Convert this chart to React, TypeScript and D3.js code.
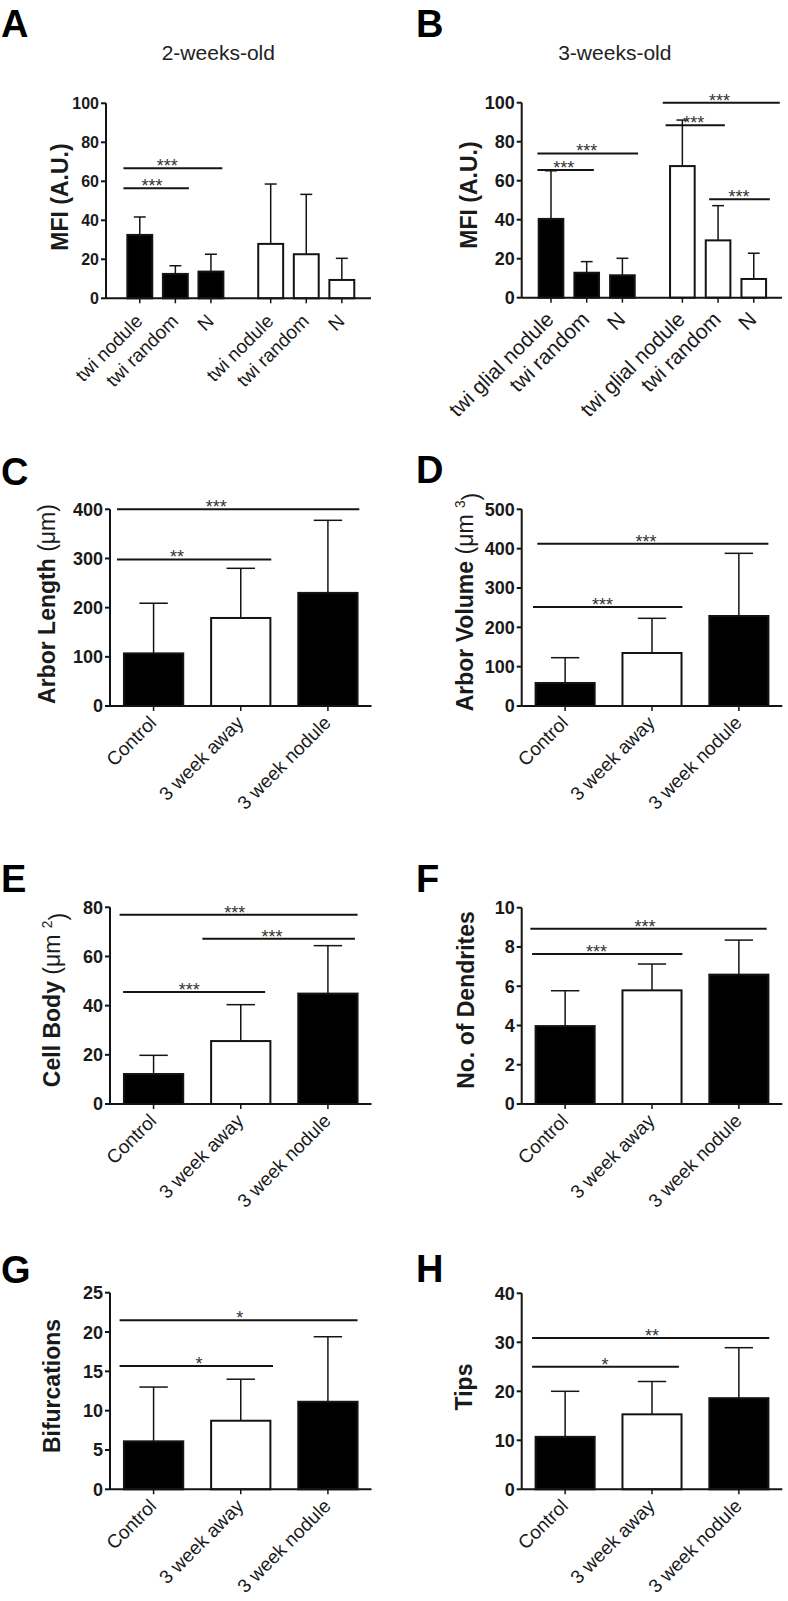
import React from "react";
import * as d3 from "d3";

const FONT = "'Liberation Sans', Arial, Helvetica, sans-serif";
const INK = "#141414";

// ---------- Panel A : 2-weeks-old MFI ----------
const aCategories = ["twi nodule", "twi random", "N", "twi nodule", "twi random", "N"];
const aGroups = [0, 0, 0, 1, 1, 1];
const aMeans = [32.5, 12.5, 13.7, 27.9, 22.6, 9.4];
const aErrors = [9.2, 4.2, 8.9, 30.7, 30.7, 11.1];
const aTicks = [0, 20, 40, 60, 80, 100];
const aSig = [
  { from: -0.46, to: 2.32, y: 66.7, label: "***", at: 0.77 },
  { from: -0.46, to: 1.38, y: 56.4, label: "***", at: 0.34 },
];

// ---------- Panel B : 3-weeks-old MFI ----------
const bCategories = ["twi glial nodule", "twi random", "N", "twi glial nodule", "twi random", "N"];
const bGroups = [0, 0, 0, 1, 1, 1];
const bMeans = [40.4, 12.8, 11.5, 67.5, 29.4, 9.6];
const bErrors = [24.7, 5.7, 8.7, 23.6, 17.8, 13.2];
const bTicks = [0, 20, 40, 60, 80, 100];
const bSig = [
  { from: -0.38, to: 1.2, y: 65.5, label: "***", at: 0.36 },
  { from: -0.38, to: 2.44, y: 74.0, label: "***", at: 1.0 },
  { from: 3.13, to: 6.41, y: 100, label: "***", at: 4.72 },
  { from: 3.21, to: 4.87, y: 88.4, label: "***", at: 4.0 },
  { from: 4.43, to: 6.13, y: 50.5, label: "***", at: 5.27 },
];

// ---------- Shared categories for C-H ----------
const morphCategories = ["Control", "3 week away", "3 week nodule"];
const morphFilled = [true, false, true];

// C : Arbor length
const cMeans = [107, 179, 230];
const cErrors = [102, 101, 147.6];
const cTicks = [0, 100, 200, 300, 400];
const cSig = [
  { from: -0.42, to: 2.36, y: 400, label: "***", at: 0.72 },
  { from: -0.42, to: 1.35, y: 298, label: "**", at: 0.27 },
];

// D : Arbor volume
const dMeans = [58.5, 134.7, 228.8];
const dErrors = [64.3, 88.2, 159.3];
const dTicks = [0, 100, 200, 300, 400, 500];
const dSig = [
  { from: -0.32, to: 2.34, y: 412.6, label: "***", at: 0.93 },
  { from: -0.37, to: 1.35, y: 251.7, label: "***", at: 0.43 },
];

// E : Cell body
const eMeans = [12.2, 25.6, 44.9];
const eErrors = [7.6, 14.8, 19.5];
const eTicks = [0, 20, 40, 60, 80];
const eSig = [
  { from: -0.39, to: 2.34, y: 77.0, label: "***", at: 0.93 },
  { from: 0.56, to: 2.31, y: 67.2, label: "***", at: 1.36 },
  { from: -0.35, to: 1.28, y: 45.6, label: "***", at: 0.41 },
];

// F : Number of dendrites
const fMeans = [3.97, 5.79, 6.59];
const fErrors = [1.8, 1.34, 1.76];
const fTicks = [0, 2, 4, 6, 8, 10];
const fSig = [
  { from: -0.4, to: 2.32, y: 8.93, label: "***", at: 0.92 },
  { from: -0.38, to: 1.35, y: 7.64, label: "***", at: 0.36 },
];

// G : Bifurcations
const gMeans = [6.1, 8.72, 11.13];
const gErrors = [6.9, 5.28, 8.27];
const gTicks = [0, 5, 10, 15, 20, 25];
const gSig = [
  { from: -0.39, to: 2.34, y: 21.5, label: "*", at: 0.99 },
  { from: -0.39, to: 1.37, y: 15.67, label: "*", at: 0.52 },
];

// H : Tips
const hMeans = [10.7, 15.3, 18.6];
const hErrors = [9.3, 6.7, 10.3];
const hTicks = [0, 10, 20, 30, 40];
const hSig = [
  { from: -0.38, to: 2.35, y: 30.9, label: "**", at: 1.0 },
  { from: -0.38, to: 1.31, y: 25.0, label: "*", at: 0.46 },
];

type Sig = { from: number; to: number; y: number; label: string; at: number };

type PanelCfg = {
  letter: string;
  letterX: number;
  letterY: number;
  title?: string;
  titleX?: number;
  titleY?: number;
  xLeft: number;
  xRight: number;
  yTop: number;
  y0: number;
  ticks: number[];
  tickFont: number;
  slots: number[];
  slotDomain: [number, number];
  barW: number;
  categories: string[];
  means: number[];
  errors: number[];
  filled: boolean[];
  sig: Sig[];
  yLabel: React.ReactNode;
  yLabelX: number;
  yLabelY: number;
  xLabelDx: number;
  xLabelDy: number;
  xLabelFont: number;
};

function Panel({ p }: { p: PanelCfg }) {
  const y = d3
    .scaleLinear()
    .domain([0, p.ticks[p.ticks.length - 1]])
    .range([p.y0, p.yTop]);
  const x = d3.scaleLinear().domain(p.slotDomain).range([p.xLeft, p.xRight]);
  const unit = x(1) - x(0);
  const bw = p.barW * unit;
  const cap = bw * 0.48;

  return (
    <g>
      <text
        x={p.letterX}
        y={p.letterY}
        fontSize={38}
        fontWeight="bold"
        fontFamily={FONT}
        fill="#000"
      >
        {p.letter}
      </text>
      {p.title && (
        <text
          x={p.titleX}
          y={p.titleY}
          fontSize={21}
          fontFamily={FONT}
          textAnchor="middle"
          fill="#222"
        >
          {p.title}
        </text>
      )}

      {/* bars */}
      {p.means.map((m, i) => {
        const cx = x(p.slots[i]);
        return (
          <g key={"b" + i}>
            <line
              x1={cx}
              x2={cx}
              y1={y(m)}
              y2={y(m + p.errors[i])}
              stroke={INK}
              strokeWidth={1.5}
            />
            <line
              x1={cx - cap / 2}
              x2={cx + cap / 2}
              y1={y(m + p.errors[i])}
              y2={y(m + p.errors[i])}
              stroke={INK}
              strokeWidth={1.5}
            />
            <rect
              x={cx - bw / 2}
              y={y(m)}
              width={bw}
              height={y(0) - y(m)}
              fill={p.filled[i] ? "#000" : "#fff"}
              stroke={INK}
              strokeWidth={2}
            />
          </g>
        );
      })}

      {/* y axis */}
      <line x1={p.xLeft} x2={p.xLeft} y1={y(p.ticks[p.ticks.length - 1])} y2={y(0)} stroke={INK} strokeWidth={2} />
      {p.ticks.map((t) => (
        <g key={"t" + t}>
          <line x1={p.xLeft - 5} x2={p.xLeft} y1={y(t)} y2={y(t)} stroke={INK} strokeWidth={2} />
          <text
            x={p.xLeft - 7}
            y={y(t)}
            dy="0.36em"
            textAnchor="end"
            fontSize={p.tickFont}
            fontWeight="bold"
            fontFamily={FONT}
            fill="#1a1a1a"
          >
            {t}
          </text>
        </g>
      ))}

      {/* x axis */}
      <line x1={p.xLeft} x2={p.xRight} y1={y(0)} y2={y(0)} stroke={INK} strokeWidth={2} />
      {p.categories.map((c, i) => {
        const cx = x(p.slots[i]);
        return (
          <g key={"x" + i}>
            <line x1={cx} x2={cx} y1={y(0)} y2={y(0) + 5} stroke={INK} strokeWidth={1.5} />
            <text
              transform={`translate(${cx + p.xLabelDx},${y(0) + p.xLabelDy}) rotate(-45)`}
              textAnchor="end"
              fontSize={p.xLabelFont}
              fontFamily={FONT}
              fill="#1a1a1a"
            >
              {c}
            </text>
          </g>
        );
      })}

      {/* significance */}
      {p.sig.map((s, i) => (
        <g key={"s" + i}>
          <line x1={x(s.from)} x2={x(s.to)} y1={y(s.y)} y2={y(s.y)} stroke={INK} strokeWidth={2} />
          <text
            x={x(s.at)}
            y={y(s.y) + 4}
            textAnchor="middle"
            fontSize={18}
            fontFamily={FONT}
            fill="#333"
          >
            {s.label}
          </text>
        </g>
      ))}

      {/* y label */}
      <text
        transform={`translate(${p.yLabelX},${p.yLabelY}) rotate(-90)`}
        textAnchor="middle"
        fontSize={23}
        fontWeight="bold"
        fontFamily={FONT}
        fill="#1a1a1a"
      >
        {p.yLabel}
      </text>
    </g>
  );
}

const groupSlots = (groups: number[]) => groups.map((g, i) => i + g * 0.68);
const seqSlots = (n: number) => d3.range(n);

const unitTail = (sup?: string) => (
  <tspan fontWeight="normal">
    (μm
    {sup ? (
      <>
        <tspan> </tspan>
        <tspan dy="-0.6em" fontSize="60%">{sup}</tspan>
        <tspan dy="0.6em">)</tspan>
      </>
    ) : (
      ")"
    )}
  </tspan>
);

const left = { xLeft: 110, xRight: 371.5 };
const right = { xLeft: 521.7, xRight: 782.3 };

const panels: PanelCfg[] = [
  {
    letter: "A", letterX: 1, letterY: 37,
    title: "2-weeks-old", titleX: 218.3, titleY: 60,
    xLeft: 106, xRight: 371, yTop: 103.3, y0: 298.3,
    ticks: aTicks, tickFont: 16,
    slots: groupSlots(aGroups), slotDomain: [-0.95, 6.5], barW: 0.7,
    categories: aCategories, means: aMeans, errors: aErrors,
    filled: aGroups.map((g) => g === 0), sig: aSig,
    yLabel: "MFI (A.U.)", yLabelX: 68, yLabelY: 197,
    xLabelDx: 4, xLabelDy: 24, xLabelFont: 19,
  },
  {
    letter: "B", letterX: 416, letterY: 37,
    title: "3-weeks-old", titleX: 614.8, titleY: 60,
    xLeft: 521.7, xRight: 782, yTop: 102.7, y0: 297.7,
    ticks: bTicks, tickFont: 18,
    slots: groupSlots(bGroups), slotDomain: [-0.821, 6.471], barW: 0.69,
    categories: bCategories, means: bMeans, errors: bErrors,
    filled: bGroups.map((g) => g === 0), sig: bSig,
    yLabel: "MFI (A.U.)", yLabelX: 477, yLabelY: 195,
    xLabelDx: 4, xLabelDy: 23, xLabelFont: 21,
  },
  {
    letter: "C", letterX: 1, letterY: 485,
    ...left, yTop: 509.3, y0: 706,
    ticks: cTicks, tickFont: 18,
    slots: seqSlots(3), slotDomain: [-0.5, 2.5], barW: 0.68,
    categories: morphCategories, means: cMeans, errors: cErrors,
    filled: morphFilled, sig: cSig,
    yLabel: (<>{"Arbor Length "}{unitTail()}</>), yLabelX: 55, yLabelY: 604,
    xLabelDx: 4, xLabelDy: 18, xLabelFont: 19,
  },
  {
    letter: "D", letterX: 416, letterY: 483,
    ...right, yTop: 509.3, y0: 706,
    ticks: dTicks, tickFont: 18,
    slots: seqSlots(3), slotDomain: [-0.5, 2.5], barW: 0.68,
    categories: morphCategories, means: dMeans, errors: dErrors,
    filled: morphFilled, sig: dSig,
    yLabel: (<>{"Arbor Volume "}{unitTail("3")}</>), yLabelX: 473, yLabelY: 602,
    xLabelDx: 4, xLabelDy: 18, xLabelFont: 19,
  },
  {
    letter: "E", letterX: 1, letterY: 892,
    ...left, yTop: 907.3, y0: 1104,
    ticks: eTicks, tickFont: 18,
    slots: seqSlots(3), slotDomain: [-0.5, 2.5], barW: 0.68,
    categories: morphCategories, means: eMeans, errors: eErrors,
    filled: morphFilled, sig: eSig,
    yLabel: (<>{"Cell Body "}{unitTail("2")}</>), yLabelX: 60, yLabelY: 1000,
    xLabelDx: 4, xLabelDy: 18, xLabelFont: 19,
  },
  {
    letter: "F", letterX: 416, letterY: 892,
    ...right, yTop: 907.7, y0: 1104,
    ticks: fTicks, tickFont: 18,
    slots: seqSlots(3), slotDomain: [-0.5, 2.5], barW: 0.68,
    categories: morphCategories, means: fMeans, errors: fErrors,
    filled: morphFilled, sig: fSig,
    yLabel: "No. of Dendrites", yLabelX: 474, yLabelY: 1000,
    xLabelDx: 4, xLabelDy: 18, xLabelFont: 19,
  },
  {
    letter: "G", letterX: 1, letterY: 1283,
    ...left, yTop: 1292.7, y0: 1489.3,
    ticks: gTicks, tickFont: 18,
    slots: seqSlots(3), slotDomain: [-0.5, 2.5], barW: 0.68,
    categories: morphCategories, means: gMeans, errors: gErrors,
    filled: morphFilled, sig: gSig,
    yLabel: "Bifurcations", yLabelX: 60, yLabelY: 1386,
    xLabelDx: 4, xLabelDy: 18, xLabelFont: 19,
  },
  {
    letter: "H", letterX: 416, letterY: 1282,
    ...right, yTop: 1293.3, y0: 1489.3,
    ticks: hTicks, tickFont: 18,
    slots: seqSlots(3), slotDomain: [-0.5, 2.5], barW: 0.68,
    categories: morphCategories, means: hMeans, errors: hErrors,
    filled: morphFilled, sig: hSig,
    yLabel: "Tips", yLabelX: 472, yLabelY: 1387,
    xLabelDx: 4, xLabelDy: 18, xLabelFont: 19,
  },
];

export default function App() {
  return (
    <svg
      width={788}
      height={1601}
      viewBox="0 0 788 1601"
      style={{ position: "absolute", left: 0, top: 0, background: "#fff" }}
    >
      <rect x={0} y={0} width={788} height={1601} fill="#fff" />
      {panels.map((p) => (
        <Panel key={p.letter} p={p} />
      ))}
    </svg>
  );
}
